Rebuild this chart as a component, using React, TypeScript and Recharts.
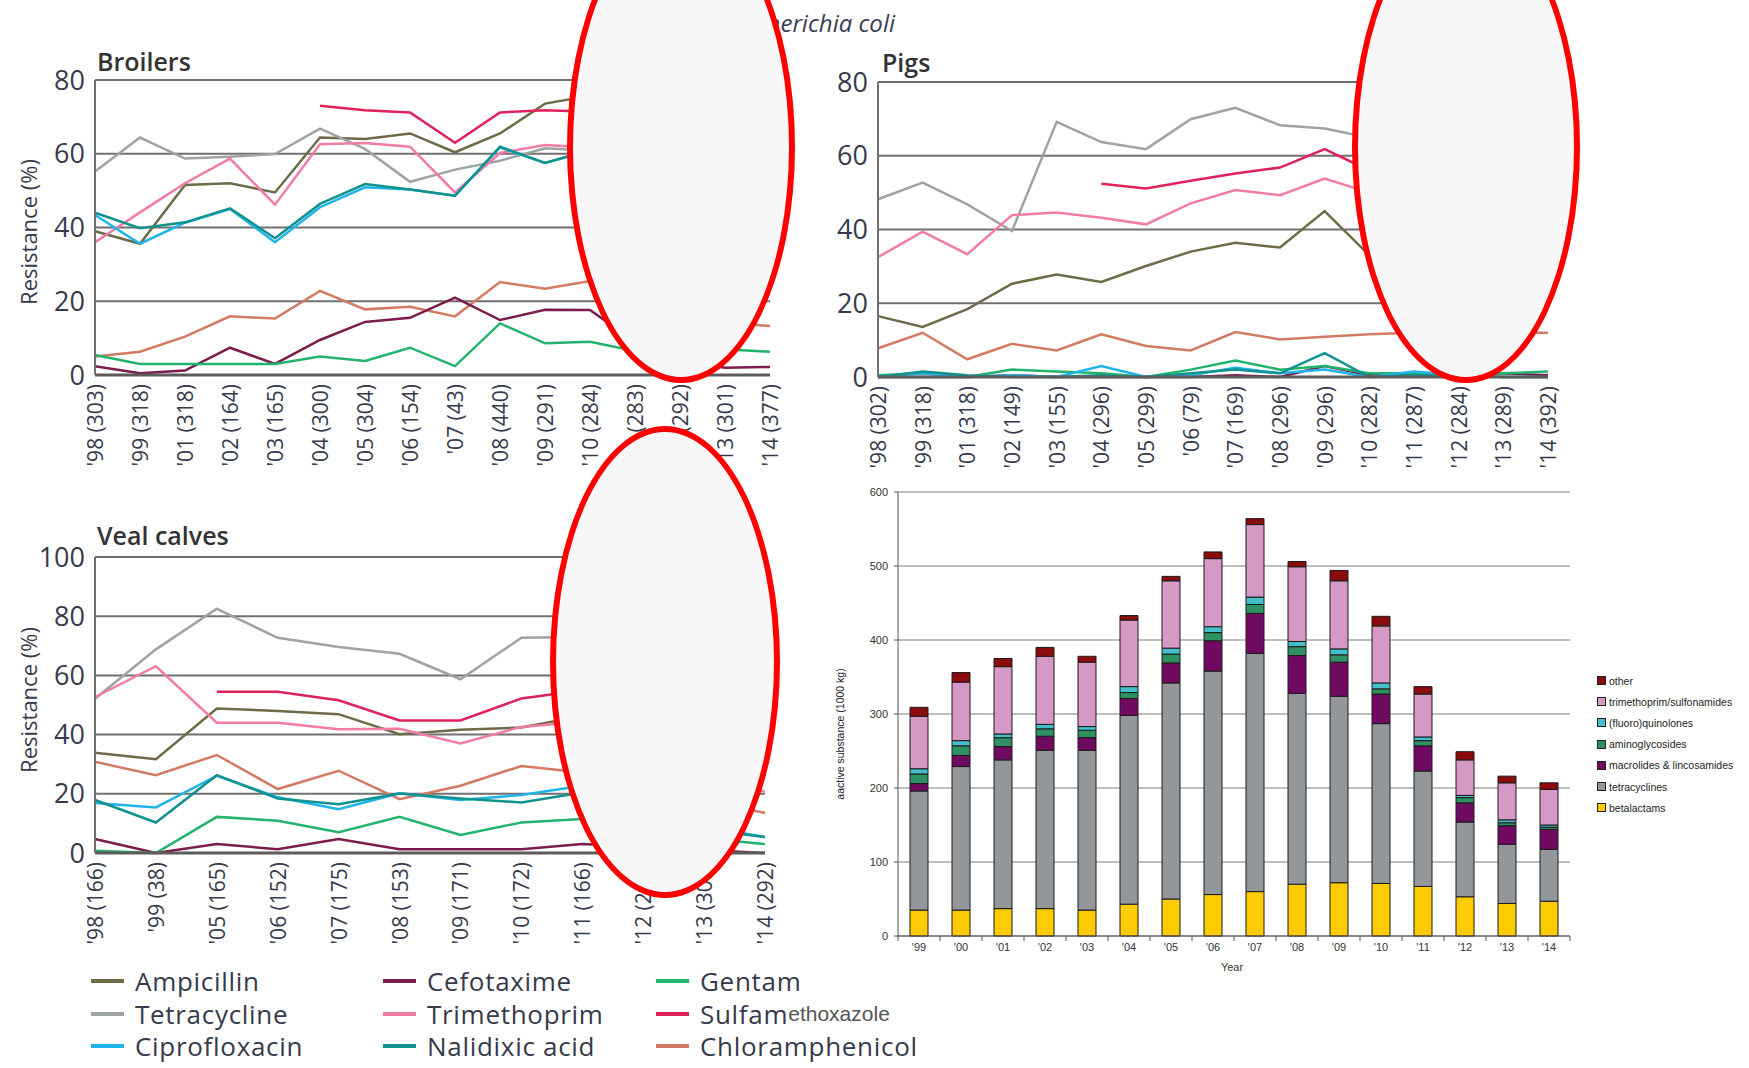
import React from "react";
import { LineChart, Line, BarChart, Bar, XAxis, YAxis, CartesianGrid } from "recharts";

const FONT = "'Open Sans', 'Noto Sans', sans-serif";
const ARIAL = "'Liberation Sans', Arial, sans-serif";
const TXT = "#363a4c";

// ---- resistance data (% resistant E. coli) ----
const broilerYears = ["'98 (303)", "'99 (318)", "'01 (318)", "'02 (164)", "'03 (165)", "'04 (300)", "'05 (304)", "'06 (154)", "'07 (43)", "'08 (440)", "'09 (291)", "'10 (284)", "'11 (283)", "'12 (292)", "'13 (301)", "'14 (377)"];
const broilerAmp = [39, 35.6, 51.5, 52, 49.5, 64.4, 64, 65.5, 60.4, 65.5, 73.6, 75.7, 70, 66, 63, 58];
const broilerTet = [55.2, 64.4, 58.7, 59.2, 59.9, 66.8, 61.3, 52.4, 55.7, 58.1, 61.5, 60.8, 59, 57, 52, 47];
const broilerCip = [43.4, 35.6, 41.3, 45, 36, 45.5, 50.9, 50.3, 48.6, 61.7, 57.5, 60.8, 57, 56, 60, 55];
const broilerCtx = [2.4, 0.5, 1.2, 7.4, 3, 9.5, 14.4, 15.5, 21, 14.9, 17.7, 17.6, 9, 4, 2, 2.2];
const broilerTmp = [36, 44.1, 52, 58.7, 46.2, 62.6, 62.9, 61.9, 49.5, 60.2, 62.4, 61.7, 58, 55, 52, 49];
const broilerNal = [44, 39.8, 41.4, 45.2, 37.1, 46.4, 51.8, 50.3, 48.6, 61.9, 57.5, 61, 56, 55, 59, 54];
const broilerGen = [5.4, 3, 3, 3, 3, 5, 3.8, 7.4, 2.4, 14, 8.6, 9, 6.5, 7, 7, 6.3];
const broilerSul = [null, null, null, null, null, 73, 71.8, 71.2, 63, 71.2, 71.8, 71.4, 69, 66, 62, 57];
const broilerChl = [5, 6.3, 10.4, 15.9, 15.3, 22.8, 17.8, 18.5, 15.9, 25.2, 23.4, 25.5, 20, 16, 14, 13.3];

const pigYears = ["'98 (302)", "'99 (318)", "'01 (318)", "'02 (149)", "'03 (155)", "'04 (296)", "'05 (299)", "'06 (79)", "'07 (169)", "'08 (296)", "'09 (296)", "'10 (282)", "'11 (287)", "'12 (284)", "'13 (289)", "'14 (392)"];
const pigAmp = [16.5, 13.6, 18.4, 25.3, 27.8, 25.8, 30.1, 34, 36.4, 35.1, 45, 33, 30, 29, 28, 27];
const pigTet = [48.2, 52.7, 46.8, 39.6, 69.2, 63.7, 61.8, 69.9, 73, 68.3, 67.4, 64.9, 62, 60, 58, 61];
const pigCip = [0, 1, 0, 0.5, 0, 3, 0, 0.5, 2.5, 1, 2, 0, 1.5, 0.5, 0, 0];
const pigCtx = [0, 0, 0, 0.5, 0, 0, 0, 0, 0.5, 0, 3, 0.5, 0.5, 0.5, 1, 0.5];
const pigTmp = [32.5, 39.4, 33.3, 43.9, 44.6, 43.2, 41.4, 47.1, 50.7, 49.3, 53.8, 50, 44, 41, 40, 41];
const pigNal = [0, 1.5, 0.5, 0, 0, 0.5, 0, 1, 2, 1, 6.5, 0, 0.5, 0.5, 0, 0];
const pigGen = [0.5, 1, 0, 2, 1.5, 1, 0, 2, 4.5, 2, 3, 1, 1, 1, 1, 1.5];
const pigSul = [null, null, null, null, null, 52.4, 51.1, 53.2, 55.2, 56.8, 61.8, 56, 50, 48, 46, 47];
const pigChl = [7.8, 12, 4.8, 9, 7.2, 11.6, 8.4, 7.2, 12.2, 10.2, 10.9, 11.6, 12, 12, 12, 12];

const vealYears = ["'98 (166)", "'99 (38)", "'05 (165)", "'06 (152)", "'07 (175)", "'08 (153)", "'09 (171)", "'10 (172)", "'11 (166)", "'12 (205)", "'13 (309)", "'14 (292)"];
const vealAmp = [33.9, 31.7, 48.8, 48, 46.9, 40.1, 41.6, 42.4, 46.3, 45, 40, 38];
const vealTet = [52.1, 68.8, 82.5, 72.7, 69.6, 67.3, 58.7, 72.7, 73, 70, 68, 66];
const vealCip = [16.9, 15.4, 26.1, 18.8, 14.8, 20.2, 17.9, 19.6, 22.7, 18, 9, 5.4];
const vealCtx = [4.7, 0, 3, 1.3, 4.7, 1.3, 1.3, 1.3, 3, 2, 1, 0];
const vealTmp = [52.7, 63.1, 44, 44, 41.8, 42, 37, 42.6, 44.3, 38, 30, 20.6];
const vealNal = [17.9, 10.3, 26.3, 18.4, 16.5, 20.1, 18.4, 17.1, 20.4, 17, 8, 5.4];
const vealGen = [0.8, 0, 12.2, 10.9, 7, 12.2, 6.1, 10.3, 11.5, 8, 5, 3];
const vealSul = [null, null, 54.5, 54.5, 51.6, 44.8, 44.8, 52.2, 55, 52, 48, 45];
const vealChl = [30.8, 26.3, 33.1, 21.6, 27.8, 18.2, 22.7, 29.4, 27.2, 24, 18, 13.5];

// ---- veterinary antibiotic sales (1000 kg active substance) ----
const barYears = ["'99", "'00", "'01", "'02", "'03", "'04", "'05", "'06", "'07", "'08", "'09", "'10", "'11", "'12", "'13", "'14"];
const betalactams = [35, 35, 37, 37, 35, 43, 50, 56, 60, 70, 72, 71, 67, 53, 44, 47];
const tetracyclines = [161, 194, 201, 214, 216, 255, 292, 302, 322, 258, 252, 216, 156, 101, 80, 70];
const macrolides = [10, 15, 18, 19, 17, 23, 27, 41, 54, 51, 46, 40, 34, 26, 25, 27];
const aminoglycosides = [13, 13, 12, 10, 10, 8, 12, 11, 12, 12, 10, 7, 7, 7, 4, 3];
const quinolones = [7, 7, 5, 6, 5, 8, 8, 8, 10, 7, 8, 8, 5, 3, 4, 3];
const trimSulfa = [71, 79, 91, 92, 87, 90, 91, 92, 98, 101, 92, 77, 58, 48, 50, 48];
const other = [12, 13, 11, 12, 8, 6, 6, 9, 8, 7, 14, 13, 10, 11, 9, 9];

// legend order, row by row
const drugs = [
  { key: "amp", label: "Ampicillin", color: "#6e6b48" },
  { key: "ctx", label: "Cefotaxime", color: "#7b1c4c" },
  { key: "gen", label: "Gentam", color: "#22b46c" },
  { key: "tet", label: "Tetracycline", color: "#9ea3a6" },
  { key: "tmp", label: "Trimethoprim", color: "#f27ca3" },
  { key: "sul", label: "Sulfam", tail: "ethoxazole", color: "#e0225a" },
  { key: "cip", label: "Ciprofloxacin", color: "#1fb3ea" },
  { key: "nal", label: "Nalidixic acid", color: "#12928e" },
  { key: "chl", label: "Chloramphenicol", color: "#d27a62" },
];
const drawOrder = ["chl", "ctx", "gen", "amp", "tet", "tmp", "sul", "cip", "nal"];

const barSeries = [
  { key: "betalactams", label: "betalactams", color: "#ffcb05", values: betalactams },
  { key: "tetracyclines", label: "tetracyclines", color: "#93979a", values: tetracyclines },
  { key: "macrolides", label: "macrolides & lincosamides", color: "#6f0a60", values: macrolides },
  { key: "aminoglycosides", label: "aminoglycosides", color: "#2f9162", values: aminoglycosides },
  { key: "quinolones", label: "(fluoro)quinolones", color: "#45bfcb", values: quinolones },
  { key: "trimSulfa", label: "trimethoprim/sulfonamides", color: "#d699c5", values: trimSulfa },
  { key: "other", label: "other", color: "#8a0c0c", values: other },
];

const toRows = (years: string[], s: Record<string, (number | null)[]>) =>
  years.map((year, i) => {
    const row: any = { year };
    Object.keys(s).forEach((k) => (row[k] = s[k][i]));
    return row;
  });

const broilerData = toRows(broilerYears, { amp: broilerAmp, tet: broilerTet, cip: broilerCip, ctx: broilerCtx, tmp: broilerTmp, nal: broilerNal, gen: broilerGen, sul: broilerSul, chl: broilerChl });
const pigData = toRows(pigYears, { amp: pigAmp, tet: pigTet, cip: pigCip, ctx: pigCtx, tmp: pigTmp, nal: pigNal, gen: pigGen, sul: pigSul, chl: pigChl });
const vealData = toRows(vealYears, { amp: vealAmp, tet: vealTet, cip: vealCip, ctx: vealCtx, tmp: vealTmp, nal: vealNal, gen: vealGen, sul: vealSul, chl: vealChl });
const barData = barYears.map((year, i) => {
  const row: any = { year };
  barSeries.forEach((s) => (row[s.key] = s.values[i]));
  return row;
});

const RotTick = (props: any) => {
  const { x, y, payload } = props;
  return (
    <text transform={`translate(${x},${y + 9}) rotate(-90)`} textAnchor="end" dominantBaseline="central" fontSize={21} fill={TXT} fontFamily={FONT}>
      {payload.value}
    </text>
  );
};

const BarTick = (props: any) => {
  const { x, y, payload, index } = props;
  return (
    <g>
      {index === 0 && <line x1={x - 21} x2={x - 21} y1={y} y2={y + 5} stroke="#555" />}
      <line x1={x + 21} x2={x + 21} y1={y} y2={y + 5} stroke="#555" />
      <text x={x} y={y + 15} textAnchor="middle" fontSize={11} fill="#333" fontFamily={ARIAL}>
        {payload.value}
      </text>
    </g>
  );
};

const ResistanceChart = ({ data, width, height, margin, yMax, ticks, yWidth, xHeight }: any) => (
  <LineChart width={width} height={height} data={data} margin={margin}>
    <CartesianGrid vertical={false} stroke="#707070" strokeWidth={2} />
    <XAxis dataKey="year" interval={0} tick={(p: any) => <RotTick {...p} />} tickLine={false} tickSize={0} tickMargin={0} axisLine={{ stroke: "#5c5c5c", strokeWidth: 3 }} height={xHeight} />
    <YAxis domain={[0, yMax]} ticks={ticks} width={yWidth} tickLine={false} tickSize={0} tickMargin={10} axisLine={{ stroke: "#707070", strokeWidth: 2 }} tick={{ fontSize: 27, fill: TXT, fontFamily: FONT }} />
    <YAxis yAxisId="frame" orientation="right" domain={[0, yMax]} width={0} tick={false} tickLine={false} axisLine={{ stroke: "#808080", strokeWidth: 2 }} />
    {drawOrder.map((k) => {
      const d = drugs.find((x) => x.key === k)!;
      return <Line key={k} type="linear" dataKey={k} stroke={d.color} strokeWidth={2.5} dot={false} isAnimationActive={false} />;
    })}
  </LineChart>
);

const abs = (left: number, top: number, extra: any = {}) => ({ position: "absolute" as const, left, top, ...extra });
const rotLabel = (cx: number, cy: number, text: string, fontSize: number, font: string, color: string) => (
  <div style={abs(cx, cy, { transform: "translate(-50%,-50%) rotate(-90deg)", whiteSpace: "nowrap", fontSize, fontFamily: font, color })}>{text}</div>
);

const Ellipse = ({ cx, cy, rx, ry }: any) => (
  <div style={abs(cx - rx, cy - ry, { width: rx * 2, height: ry * 2, borderRadius: "50%", border: "6px solid #ff0000", background: "#f7f7f7", boxSizing: "border-box", zIndex: 5 })} />
);

export default function App() {
  return (
    <div style={abs(0, 0, { width: 1749, height: 1068, background: "#fff", overflow: "hidden", fontFamily: FONT })}>
      <div style={abs(540, 6, { width: 355, textAlign: "right", fontSize: 24, fontStyle: "italic", color: "#3a3d55" })}>Escherichia coli</div>

      {/* Broilers */}
      <div style={abs(97, 44, { fontSize: 25, fontWeight: 600, color: "#333" })}>Broilers</div>
      {rotLabel(28, 232, "Resistance (%)", 22, FONT, TXT)}
      <div style={abs(0, 0)}>
        <ResistanceChart data={broilerData} width={800} height={480} margin={{ top: 80, right: 30, left: 0, bottom: 0 }} yMax={80} ticks={[0, 20, 40, 60, 80]} yWidth={95} xHeight={105} />
      </div>

      {/* Pigs */}
      <div style={abs(882, 45, { fontSize: 25, fontWeight: 600, color: "#333" })}>Pigs</div>
      <div style={abs(780, 0)}>
        <ResistanceChart data={pigData} width={800} height={480} margin={{ top: 82, right: 32, left: 0, bottom: 0 }} yMax={80} ticks={[0, 20, 40, 60, 80]} yWidth={98} xHeight={103} />
      </div>

      {/* Veal calves */}
      <div style={abs(97, 518, { fontSize: 25, fontWeight: 600, color: "#333" })}>Veal calves</div>
      {rotLabel(28, 700, "Resistance (%)", 22, FONT, TXT)}
      <div style={abs(0, 480)}>
        <ResistanceChart data={vealData} width={800} height={470} margin={{ top: 77, right: 35, left: 0, bottom: 0 }} yMax={100} ticks={[0, 20, 40, 60, 80, 100]} yWidth={95} xHeight={97} />
      </div>

      {/* line legend */}
      <div style={abs(91, 965, { display: "grid", gridTemplateColumns: "292px 273px 300px" })}>
        {drugs.map((d) => (
          <div key={d.key} style={{ display: "flex", alignItems: "center", height: 32.5, whiteSpace: "nowrap", lineHeight: 1 }}>
            <span style={{ display: "inline-block", width: 33, height: 4, background: d.color, marginRight: 11 }} />
            <span style={{ fontSize: 26, letterSpacing: 0.7, color: TXT }}>{d.label}</span>
            {d.tail && <span style={{ fontSize: 21, color: "#555", fontFamily: ARIAL }}>{d.tail}</span>}
          </div>
        ))}
      </div>

      {/* Sales bar chart */}
      {rotLabel(840, 734, "aactive substance (1000 kg)", 10.5, ARIAL, "#222")}
      <div style={abs(1232, 961, { transform: "translateX(-50%)", fontSize: 11, fontFamily: ARIAL, color: "#333" })}>Year</div>
      <div style={abs(820, 470)}>
        <BarChart width={760} height={510} data={barData} margin={{ top: 22, right: 10, left: 0, bottom: 0 }} barSize={18}>
          <CartesianGrid vertical={false} stroke="#a8a8a8" strokeWidth={1.5} />
          <XAxis dataKey="year" interval={0} tick={(p: any) => <BarTick {...p} />} tickLine={false} tickSize={0} tickMargin={0} axisLine={{ stroke: "#555" }} height={44} />
          <YAxis domain={[0, 600]} ticks={[0, 100, 200, 300, 400, 500, 600]} width={78} tickSize={4} tickMargin={6} tickLine={{ stroke: "#555" }} axisLine={{ stroke: "#555" }} tick={{ fontSize: 11, fill: "#333", fontFamily: ARIAL }} />
          <YAxis yAxisId="frame" orientation="right" domain={[0, 600]} width={0} tick={false} tickLine={false} axisLine={{ stroke: "#9a9a9a", strokeWidth: 1.5 }} />
          {barSeries.map((s) => (
            <Bar key={s.key} dataKey={s.key} stackId="a" fill={s.color} stroke="#1a1a1a" strokeWidth={1} isAnimationActive={false} />
          ))}
        </BarChart>
      </div>
      <div style={abs(1597, 670, { fontFamily: ARIAL, fontSize: 10.5, color: "#222" })}>
        {[...barSeries].reverse().map((s) => (
          <div key={s.key} style={{ display: "flex", alignItems: "center", height: 21.2, whiteSpace: "nowrap" }}>
            <span style={{ display: "inline-block", width: 7, height: 7, background: s.color, border: "1px solid #222", marginRight: 3 }} />
            {s.label}
          </div>
        ))}
      </div>

      {/* occluding marks over the figure */}
      <Ellipse cx={681} cy={147} rx={114} ry={236} />
      <Ellipse cx={1466} cy={147} rx={114} ry={236} />
      <Ellipse cx={665} cy={662} rx={115} ry={236} />
    </div>
  );
}
